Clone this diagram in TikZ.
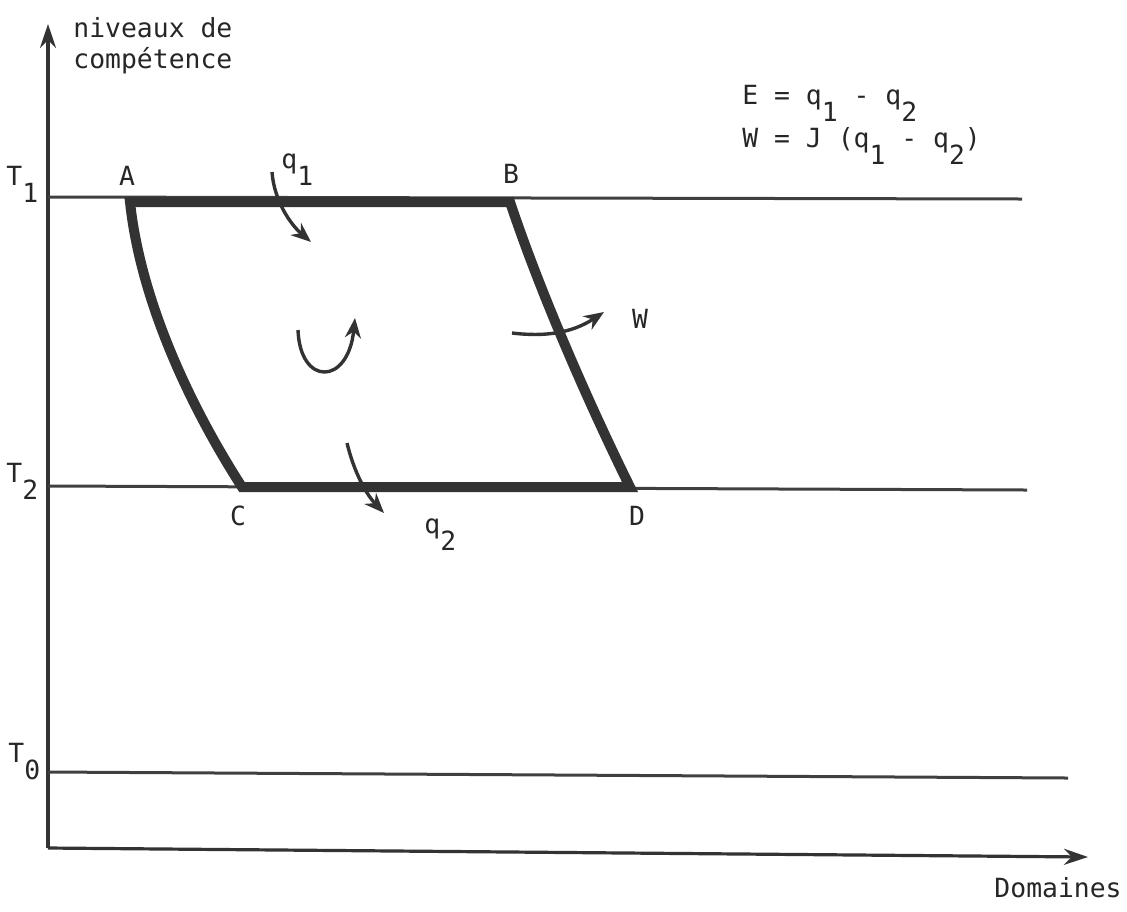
\documentclass[tikz,border=0pt]{standalone}
\usepackage{fontspec}
\setmainfont{DejaVu Sans Mono}
\usetikzlibrary{
  arrows.meta,
  positioning}

\tikzset{
  axis/.style={
    line width=1.6pt,
    black!80,
    -{Stealth[length=12pt,width=8pt]}
  },
  level/.style={
    line width=1.5pt,
    black!75
  },
  carnot/.style={
    line width=5pt,
    black!80
  },
  flow/.style={
    line width=1.7pt,
    black!80,
    -{Stealth[length=10pt,width=8pt]}
  },
  lbl/.style={
    font=\fontsize{13.2}{15}\selectfont,
    text=black!85,
    inner sep=0pt
  }
}
\newcommand{\lowr}[1]{\raisebox{-0.65em}{#1}}

\begin{document}
\begin{tikzpicture}[x=0.5pt,y=-0.5pt]%
  \useasboundingbox (0,0) rectangle (1127,911);

  % Axes
  \coordinate (orig) at (48,848);
  \coordinate (ytop) at (48,24);
  \coordinate (xend) at (1088,857);

  \draw[axis] (orig) -- (ytop);
  \draw[axis] (orig) -- (xend);

  \node[lbl, anchor=base west] (ylab1) at (73,37) {niveaux de};
  \node[lbl, anchor=base west] (ylab2) at (73,68) {compétence};
  \node[lbl, anchor=base east] (xlab) at (1122,897) {Domaines};

  % Levels
  \coordinate (t1a) at (48,197);
  \coordinate (t1b) at (1022,199);
  \coordinate (t2a) at (48,486);
  \coordinate (t2b) at (1027,490);
  \coordinate (t0a) at (48,772);
  \coordinate (t0b) at (1068,778);

  \draw[level] (t1a) -- (t1b);
  \draw[level] (t2a) -- (t2b);
  \draw[level] (t0a) -- (t0b);

  \node[lbl, anchor=base west] (tl1) at (6,185) {T\lowr{1}};
  \node[lbl, anchor=base west] (tl2) at (6,482) {T\lowr{2}};
  \node[lbl, anchor=base west] (tl0) at (8,762) {T\lowr{0}};

  % Cycle
  \coordinate (A) at (130,202);
  \coordinate (B) at (510,202);
  \coordinate (D) at (630,487);
  \coordinate (C) at (242,487);

  \draw[carnot]
    (A) -- (B)
    .. controls (540,292) and (588,402) .. (D)
    -- (C)
    .. controls (186,400) and (140,296) .. (A) -- cycle;

  \node[lbl, anchor=base] (labA) at (127,185) {A};
  \node[lbl, anchor=base] (labB) at (511,183) {B};
  \node[lbl, anchor=base] (labC) at (238,525) {C};
  \node[lbl, anchor=base] (labD) at (637,525) {D};

  % Exchanges
  \coordinate (q1s) at (272,172);
  \coordinate (q1e) at (311,242);
  \coordinate (q2s) at (347,443);
  \coordinate (q2e) at (384,513);
  \coordinate (ws) at (512,333);
  \coordinate (we) at (604,312);
  \coordinate (rs) at (298,330);
  \coordinate (re) at (355,318);

  \draw[flow] (q1s) .. controls (274,200) and (290,224) .. (q1e);
  \draw[flow] (q2s) .. controls (354,472) and (366,494) .. (q2e);
  \draw[flow] (ws) .. controls (545,337) and (572,333) .. (we);
  \draw[flow] (rs) .. controls (300,386) and (348,386) .. (re);

  \node[lbl, anchor=base west] (q1) at (281,168) {q\lowr{1}};
  \node[lbl, anchor=base west] (q2) at (424,533) {q\lowr{2}};
  \node[lbl, anchor=base] (w) at (640,328) {W};

  % Relations
  \node[lbl, anchor=base west] (eq1) at (742,104) {E = q\lowr{1} - q\lowr{2}};
  \node[lbl, anchor=base west] (eq2) at (742,147) {W = J (q\lowr{1} - q\lowr{2})};

\end{tikzpicture}
\end{document}
